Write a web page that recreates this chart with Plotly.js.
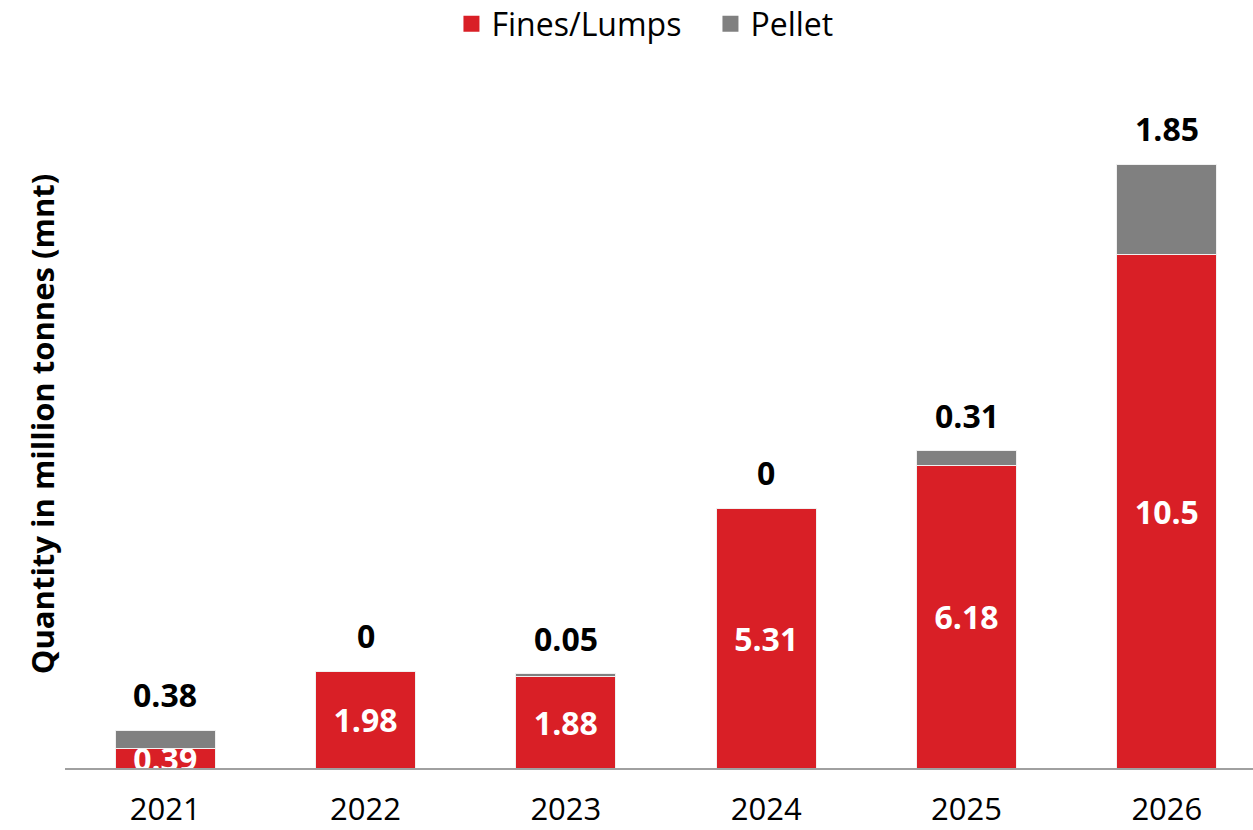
<!DOCTYPE html>
<html>
<head>
<meta charset="utf-8">
<script src="https://cdn.plot.ly/plotly-3.0.1.min.js"></script>
<style>html,body{margin:0;padding:0;background:#fff;}#chart{width:1253px;height:830px;}</style>
</head>
<body>
<div id="chart"></div>
<script>
const years = ['2021', '2022', '2023', '2024', '2025', '2026'];
const finesLumps = [0.39, 1.98, 1.88, 5.31, 6.18, 10.5];
const pellet = [0.38, 0, 0.05, 0, 0.31, 1.85];
const finesLabels = ['0.39', '1.98', '1.88', '5.31', '6.18', '10.5'];
const pelletLabels = ['0.38', '0', '0.05', '0', '0.31', '1.85'];
const seriesNames = ['Fines/Lumps', 'Pellet'];

const FONT = '"Open Sans", Lato, sans-serif';
const RED = '#D91F26';
const GRAY = '#808080';

const traces = [
  {
    type: 'bar', name: seriesNames[0], x: years, y: finesLumps, showlegend: false,
    text: finesLabels, textposition: 'inside', insidetextanchor: 'middle',
    constraintext: 'none', textangle: 0,
    textfont: {family: FONT, size: 32, color: '#ffffff', weight: 'bold'},
    marker: {color: RED, line: {color: '#f0f0f0', width: 1}},
    hoverinfo: 'skip'
  },
  {
    type: 'bar', name: seriesNames[1], x: years, y: pellet, showlegend: false,
    marker: {color: GRAY, line: {color: '#f0f0f0', width: 1}},
    hoverinfo: 'skip'
  },
  {
    type: 'scatter', mode: 'markers', name: seriesNames[0], x: [null], y: [null],
    marker: {symbol: 'square', size: 20, color: RED}, showlegend: true, hoverinfo: 'skip'
  },
  {
    type: 'scatter', mode: 'markers', name: seriesNames[1], x: [null], y: [null],
    marker: {symbol: 'square', size: 20, color: GRAY}, showlegend: true, hoverinfo: 'skip'
  }
];

const annotations = years.map((yr, i) => ({
  x: i, y: finesLumps[i] + pellet[i], xref: 'x', yref: 'y',
  text: '<b>' + pelletLabels[i] + '</b>', showarrow: false,
  yanchor: 'bottom', xanchor: 'center', yshift: 12,
  font: {family: FONT, size: 32, color: '#000000'}
}));

const layout = {
  width: 1253, height: 830,
  margin: {l: 65, r: 0, t: 80, b: 62},
  paper_bgcolor: '#ffffff', plot_bgcolor: '#ffffff',
  barmode: 'stack', bargap: 0.5,
  showlegend: true,
  legend: {
    orientation: 'h', x: 0.3253, xanchor: 'left', y: 0.971, yref: 'container', yanchor: 'middle',
    font: {family: FONT, size: 32, color: '#000000'}, traceorder: 'normal',
    itemwidth: 30, entrywidth: 214, entrywidthmode: 'pixels'
  },
  xaxis: {
    type: 'category', range: [-0.5, 5.43],
    showline: true, linecolor: '#A0A0A0', linewidth: 2,
    ticks: '', showgrid: false, zeroline: false,
    ticklabelstandoff: 13,
    tickfont: {family: FONT, size: 31, color: '#000000'}
  },
  yaxis: {
    range: [0, 14.07], showticklabels: false, showgrid: false, zeroline: false,
    showline: false, ticks: '',
    title: {text: '<b>Quantity in million tonnes (mnt)</b>', standoff: 0,
      font: {family: FONT, size: 31, color: '#000000'}}
  },
  annotations: annotations,
  font: {family: FONT}
};

Plotly.newPlot('chart', traces, layout, {displayModeBar: false, staticPlot: true});
</script>
</body>
</html>
